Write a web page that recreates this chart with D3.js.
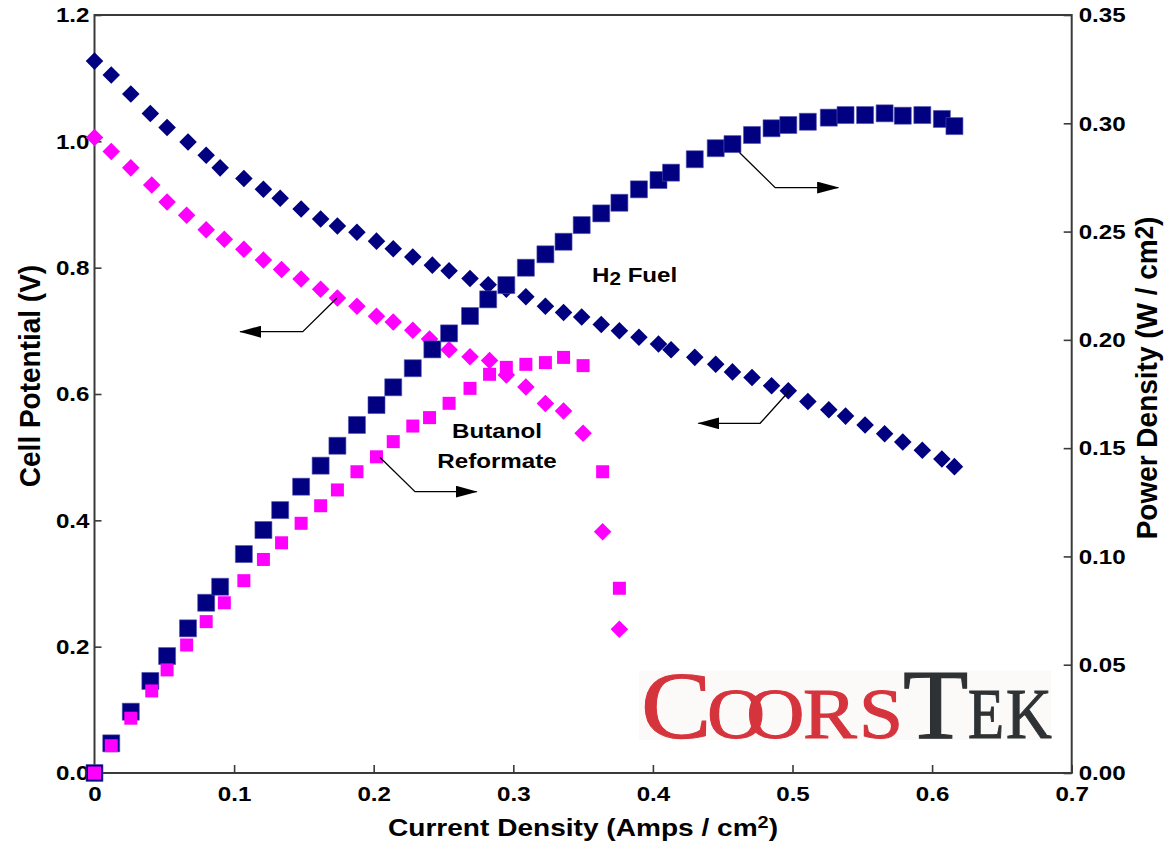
<!DOCTYPE html>
<html>
<head>
<meta charset="utf-8">
<script src="https://cdn.jsdelivr.net/npm/d3@7/dist/d3.min.js"></script>
<style>
  html, body { margin: 0; padding: 0; background: #ffffff; }
  svg { display: block; }
  text { font-family: "Liberation Sans", Arial, Helvetica, sans-serif; }
</style>
</head>
<body>
<svg id="chart" width="1171" height="845"></svg>
<script>
// Current density (A/cm2) for each run
const currentH2 = [0, 0.012, 0.026, 0.040, 0.052, 0.067, 0.080, 0.090, 0.107, 0.121, 0.133, 0.148, 0.162, 0.174, 0.188, 0.202, 0.214, 0.228, 0.242, 0.254, 0.269, 0.282, 0.295, 0.309, 0.323, 0.336, 0.349, 0.363, 0.376, 0.390, 0.404, 0.413, 0.430, 0.445, 0.457, 0.471, 0.485, 0.497, 0.511, 0.526, 0.538, 0.552, 0.566, 0.579, 0.593, 0.607, 0.616];
const potentialH2 = [1.127, 1.105, 1.075, 1.044, 1.022, 0.999, 0.978, 0.958, 0.941, 0.924, 0.910, 0.893, 0.877, 0.866, 0.856, 0.842, 0.830, 0.817, 0.804, 0.795, 0.783, 0.773, 0.766, 0.754, 0.739, 0.729, 0.722, 0.710, 0.700, 0.690, 0.679, 0.670, 0.658, 0.647, 0.635, 0.626, 0.613, 0.605, 0.588, 0.575, 0.565, 0.551, 0.537, 0.524, 0.511, 0.497, 0.485];
const powerH2 = [0, 0.0137, 0.0283, 0.0425, 0.054, 0.0668, 0.0786, 0.086, 0.1011, 0.1122, 0.1214, 0.1322, 0.1419, 0.1511, 0.1607, 0.1699, 0.1781, 0.1869, 0.1956, 0.2030, 0.2110, 0.2187, 0.2253, 0.2333, 0.2395, 0.2453, 0.2530, 0.2584, 0.2633, 0.2695, 0.2738, 0.2772, 0.2834, 0.2885, 0.2904, 0.2946, 0.2977, 0.2992, 0.3007, 0.3026, 0.3038, 0.3038, 0.3046, 0.3035, 0.3038, 0.3020, 0.2987];

const currentBut = [0, 0.012, 0.026, 0.041, 0.052, 0.066, 0.080, 0.093, 0.107, 0.121, 0.134, 0.148, 0.162, 0.174, 0.188, 0.202, 0.214, 0.228, 0.240, 0.254, 0.269, 0.283, 0.295, 0.309, 0.323, 0.336, 0.350, 0.364, 0.376];
const potentialBut = [1.006, 0.984, 0.958, 0.931, 0.904, 0.883, 0.860, 0.845, 0.829, 0.812, 0.797, 0.782, 0.766, 0.752, 0.739, 0.723, 0.714, 0.701, 0.687, 0.670, 0.659, 0.653, 0.630, 0.611, 0.585, 0.573, 0.538, 0.382, 0.2275];
const powerBut = [0, 0.0126, 0.0253, 0.0379, 0.0476, 0.0591, 0.0699, 0.0786, 0.0888, 0.0986, 0.1063, 0.1153, 0.1234, 0.1307, 0.1391, 0.1460, 0.1530, 0.1602, 0.1641, 0.1707, 0.1776, 0.1841, 0.1873, 0.1887, 0.1895, 0.1919, 0.1881, 0.1391, 0.0853];

// Axis ticks
const xTicks = [0, 0.1, 0.2, 0.3, 0.4, 0.5, 0.6, 0.7];
const yLeftTicks = [0, 0.2, 0.4, 0.6, 0.8, 1.0, 1.2];
const yRightTicks = [0, 0.05, 0.10, 0.15, 0.20, 0.25, 0.30, 0.35];

// Annotation arrows: [current, value] points, last point is the arrow tip; axis tells which scale
const arrows = [
  { axis: "right", pts: [[0.462, 0.2865], [0.4876, 0.2703], [0.5327, 0.2703]] },
  { axis: "left",  pts: [[0.1735, 0.7515], [0.1492, 0.6986], [0.1043, 0.6986]] },
  { axis: "right", pts: [[0.2046, 0.1457], [0.2296, 0.1299], [0.2738, 0.1299]] },
  { axis: "left",  pts: [[0.4983, 0.6063], [0.4768, 0.5536], [0.4326, 0.5536]] }
];

const NAVY = "#000080";
const MAGENTA = "#ff00ff";
const SX = 1.15; // horizontal widening of the lettering

const svg = d3.select("#chart");
const L = 94.5, R = 1071.7, T = 15, B = 773;

const x = d3.scaleLinear().domain([0, 0.7]).range([L, R]);
const yL = d3.scaleLinear().domain([0, 1.2]).range([B, T]);
const yR = d3.scaleLinear().domain([0, 0.35]).range([B, T]);

// ---- axes ----
const axisStyle = g => {
  g.select(".domain").remove();
  g.selectAll(".tick line").attr("stroke", "#3a3a3a").attr("stroke-width", 1.6);
  g.selectAll(".tick text")
    .attr("fill", "#000")
    .style("font-size", "21px")
    .style("font-weight", "bold");
};

const gx = svg.append("g").attr("transform", `translate(0,${B})`)
  .call(d3.axisBottom(x).tickValues(xTicks)
    .tickFormat(d => d === 0 ? "0" : d3.format(".1f")(d))
    .tickSizeInner(-8).tickSizeOuter(0).tickPadding(13))
  .call(axisStyle);
gx.selectAll(".tick text").attr("transform", `scale(${SX},1)`);

const gyl = svg.append("g").attr("transform", `translate(${L},0)`)
  .call(d3.axisLeft(yL).tickValues(yLeftTicks).tickFormat(d3.format(".1f"))
    .tickSizeInner(-7).tickSizeOuter(0).tickPadding(5))
  .call(axisStyle);
gyl.selectAll(".tick text").attr("x", 0).attr("transform", `translate(-5,0) scale(${SX},1)`);

const gyr = svg.append("g").attr("transform", `translate(${R},0)`)
  .call(d3.axisRight(yR).tickValues(yRightTicks).tickFormat(d3.format(".2f"))
    .tickSizeInner(-8).tickSizeOuter(0).tickPadding(7))
  .call(axisStyle);
gyr.selectAll(".tick text").attr("x", 0).attr("transform", `translate(7,0) scale(${SX},1)`);

// plot frame
svg.append("rect")
  .attr("x", L).attr("y", T).attr("width", R - L).attr("height", B - T)
  .attr("fill", "none").attr("stroke", "#3a3a3a").attr("stroke-width", 2);

// ---- axis titles ----
const bottomTitle = svg.append("text")
  .attr("transform", `translate(583,836) scale(1.17,1)`)
  .attr("text-anchor", "middle")
  .style("font-size", "24px").style("font-weight", "bold");
bottomTitle.append("tspan").text("Current Density (Amps / cm");
bottomTitle.append("tspan").attr("dy", -8).style("font-size", "17px").text("2");
bottomTitle.append("tspan").attr("dy", 8).text(")");

svg.append("text")
  .attr("transform", `translate(40,376) scale(1.08,1) rotate(-90)`)
  .attr("text-anchor", "middle")
  .style("font-size", "28px").style("font-weight", "bold")
  .text("Cell Potential (V)");

const rightTitle = svg.append("text")
  .attr("transform", `translate(1157,378) scale(1.05,1) rotate(-90)`)
  .attr("text-anchor", "middle")
  .style("font-size", "28px").style("font-weight", "bold");
rightTitle.append("tspan").text("Power Density (W / cm");
rightTitle.append("tspan").attr("dy", -4).style("font-size", "24px").text("2");
rightTitle.append("tspan").attr("dy", 4).text(")");

// ---- logo ----
const logo = svg.append("g");
logo.append("rect").attr("x", 639).attr("y", 671).attr("width", 412).attr("height", 69)
  .attr("fill", "#fbfaf9");
const RED = "#d6343d", SLATE = "#2e3234";
const logoLetters = [
  { ch: "C",  x0: 641, size: 96, color: RED,   sx: 1.1,  ls: 0 },
  { ch: "OO", x0: 707, size: 72, color: RED,   sx: 1.12, ls: -17 },
  { ch: "R",  x0: 803, size: 72, color: RED,   sx: 1.12, ls: 0 },
  { ch: "S",  x0: 859, size: 72, color: RED,   sx: 1.1,  ls: 0 },
  { ch: "T",  x0: 903, size: 99, color: SLATE, sx: 1.08, ls: 0 },
  { ch: "E",  x0: 968, size: 72, color: SLATE, sx: 0.82, ls: 0 },
  { ch: "K",  x0: 1006, size: 72, color: SLATE, sx: 0.88, ls: 0 }
];
logo.selectAll("text.logo").data(logoLetters).join("text")
  .attr("class", "logo")
  .attr("transform", d => `translate(${d.x0},738) scale(${d.sx},1)`)
  .attr("fill", d => d.color)
  .attr("stroke", d => d.color).attr("stroke-width", 1.1)
  .style("letter-spacing", d => d.ls + "px")
  .style("font-family", "'Liberation Serif', 'Times New Roman', serif")
  .style("font-size", d => d.size + "px")
  .text(d => d.ch);

// ---- markers ----
const sq = (side) => d3.symbol().type(d3.symbolSquare).size(side * side)();

const plot = svg.append("g");

// butanol reformate cell potential (diamonds)
plot.selectAll("path.butV").data(currentBut.map((c, i) => [c, potentialBut[i]])).join("path")
  .attr("class", "butV").attr("d", sq(12.4)).attr("fill", MAGENTA)
  .attr("transform", d => `translate(${x(d[0])},${yL(d[1])}) rotate(45)`);

// H2 cell potential (diamonds)
plot.selectAll("path.h2V").data(currentH2.map((c, i) => [c, potentialH2[i]])).join("path")
  .attr("class", "h2V").attr("d", sq(12.4)).attr("fill", NAVY)
  .attr("transform", d => `translate(${x(d[0])},${yL(d[1])}) rotate(45)`);

// H2 power density (squares)
plot.selectAll("path.h2P").data(currentH2.map((c, i) => [c, powerH2[i]])).join("path")
  .attr("class", "h2P").attr("d", sq(17)).attr("fill", NAVY)
  .attr("stroke", "#5050b0").attr("stroke-width", 0.6)
  .attr("transform", d => `translate(${x(d[0])},${yR(d[1])})`);

// butanol reformate power density (squares)
plot.selectAll("path.butP").data(currentBut.map((c, i) => [c, powerBut[i]])).join("path")
  .attr("class", "butP").attr("d", sq(13)).attr("fill", MAGENTA)
  .attr("transform", d => `translate(${x(d[0])},${yR(d[1])})`);

// ---- annotations ----
svg.append("defs").append("marker")
  .attr("id", "head").attr("viewBox", "0 0 22 12")
  .attr("refX", 21).attr("refY", 6)
  .attr("markerWidth", 22).attr("markerHeight", 12)
  .attr("markerUnits", "userSpaceOnUse").attr("orient", "auto")
  .append("path").attr("d", "M0,0 L22,6 L0,12 Z").attr("fill", "#000");

const line = d3.line();
svg.selectAll("path.arrow").data(arrows).join("path")
  .attr("class", "arrow")
  .attr("d", a => line(a.pts.map(p => [x(p[0]), (a.axis === "left" ? yL : yR)(p[1])])))
  .attr("fill", "none").attr("stroke", "#000").attr("stroke-width", 1.3)
  .attr("marker-end", "url(#head)");

// ---- labels ----
const h2Label = svg.append("text")
  .attr("transform", `translate(592,282) scale(${SX},1)`)
  .style("font-size", "21px").style("font-weight", "bold");
h2Label.append("tspan").text("H");
h2Label.append("tspan").attr("dy", 3).style("font-size", "18px").text("2");
h2Label.append("tspan").attr("dy", -3).text(" Fuel");

svg.append("text")
  .attr("transform", `translate(497,438) scale(${SX},1)`)
  .attr("text-anchor", "middle")
  .style("font-size", "21px").style("font-weight", "bold")
  .text("Butanol");
svg.append("text")
  .attr("transform", `translate(497,468) scale(${SX},1)`)
  .attr("text-anchor", "middle")
  .style("font-size", "21px").style("font-weight", "bold")
  .text("Reformate");
</script>
</body>
</html>
